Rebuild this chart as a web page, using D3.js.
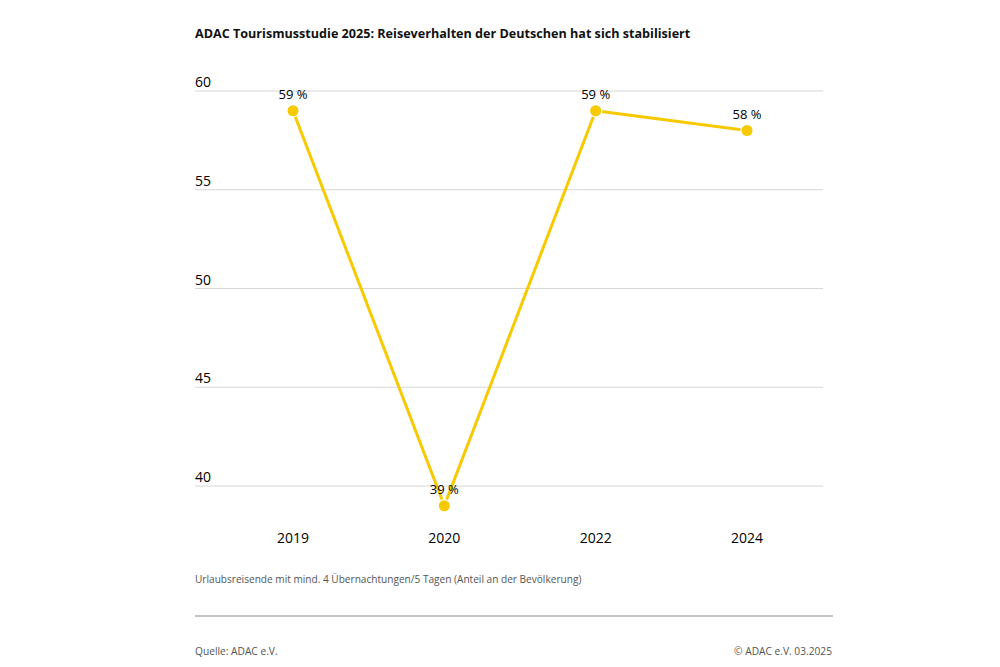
<!DOCTYPE html>
<html>
<head>
<meta charset="utf-8">
<script src="https://cdn.jsdelivr.net/npm/d3@7"></script>
<style>
  html, body { margin: 0; padding: 0; background: #fff; }
  svg { display: block; }
  text { font-family: "Open Sans", "Noto Sans", sans-serif; }
</style>
</head>
<body>
<svg id="chart" width="1000" height="667"></svg>
<script>
const years = ["2019", "2020", "2022", "2024"];
const values = [59, 39, 59, 58];
const yTicks = [40, 45, 50, 55, 60];
const titleText = "ADAC Tourismusstudie 2025: Reiseverhalten der Deutschen hat sich stabilisiert";
const noteText = "Urlaubsreisende mit mind. 4 Übernachtungen/5 Tagen (Anteil an der Bevölkerung)";
const sourceText = "Quelle: ADAC e.V.";
const copyrightText = "© ADAC e.V. 03.2025";

const data = years.map((y, i) => ({ year: y, value: values[i] }));

const svg = d3.select("#chart");
const left = 195, right = 823;
const yellow = "#f7c900";

const x = d3.scalePoint().domain(years).range([293, 747]);
const y = d3.scaleLinear().domain([40, 60]).range([486, 91]);

// title
svg.append("text")
  .attr("x", left).attr("y", 38)
  .attr("font-size", 12.6).attr("font-weight", 700).attr("fill", "#111")
  .text(titleText);

// gridlines
const grid = svg.append("g");
grid.selectAll("line").data(yTicks).join("line")
  .attr("x1", left).attr("x2", right)
  .attr("y1", d => y(d)).attr("y2", d => y(d))
  .attr("stroke", "#d6d6d6").attr("stroke-width", 1);
grid.selectAll("text").data(yTicks).join("text")
  .attr("x", left).attr("y", d => y(d) - 4)
  .attr("font-size", 14).attr("fill", "#000")
  .text(d => d);

// x labels
svg.append("g").selectAll("text").data(years).join("text")
  .attr("x", d => x(d)).attr("y", 543)
  .attr("text-anchor", "middle")
  .attr("font-size", 14).attr("fill", "#000")
  .text(d => d);

// line
const line = d3.line().x(d => x(d.year)).y(d => y(d.value));
svg.append("path").datum(data)
  .attr("d", line)
  .attr("fill", "none").attr("stroke", yellow).attr("stroke-width", 3)
  .attr("stroke-linejoin", "round");

// dots
svg.append("g").selectAll("circle").data(data).join("circle")
  .attr("cx", d => x(d.year)).attr("cy", d => y(d.value))
  .attr("r", 5.5)
  .attr("fill", yellow).attr("stroke", "#fff").attr("stroke-width", 2.5)
  .attr("paint-order", "stroke");

// value labels
svg.append("g").selectAll("text").data(data).join("text")
  .attr("x", d => x(d.year)).attr("y", d => y(d.value) - 12)
  .attr("text-anchor", "middle")
  .attr("font-size", 13).attr("fill", "#000")
  .text(d => d.value + " %");

// note
svg.append("text")
  .attr("x", left).attr("y", 583)
  .attr("font-size", 10.1).attr("fill", "#555")
  .text(noteText);

// separator
svg.append("line")
  .attr("x1", left).attr("x2", 833).attr("y1", 616).attr("y2", 616)
  .attr("stroke", "#c4c4c4").attr("stroke-width", 2);

// footer
svg.append("text")
  .attr("x", left).attr("y", 655)
  .attr("font-size", 10.2).attr("fill", "#555")
  .text(sourceText);
svg.append("text")
  .attr("x", 832).attr("y", 655).attr("text-anchor", "end")
  .attr("font-size", 10.2).attr("fill", "#555")
  .text(copyrightText);
</script>
</body>
</html>
